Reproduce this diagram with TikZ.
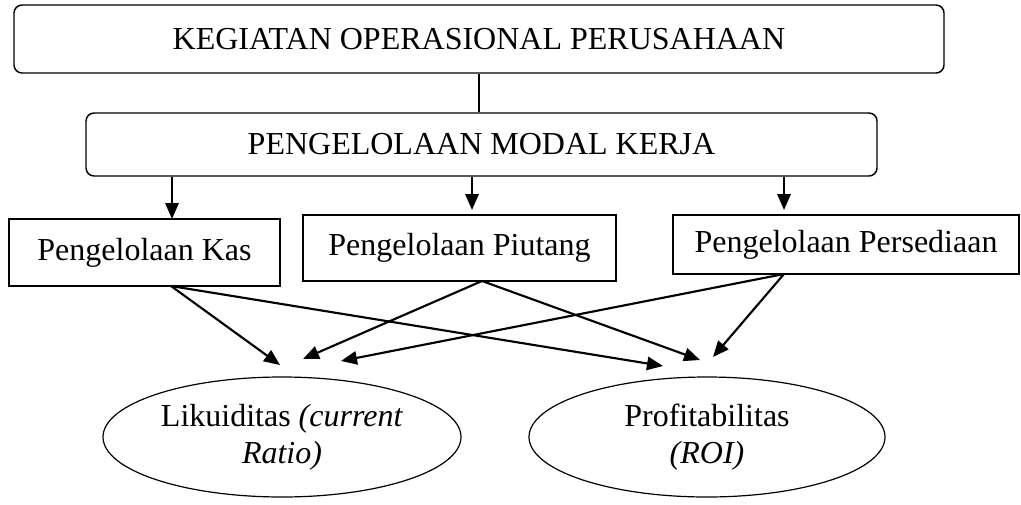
\documentclass[tikz,border=0pt]{standalone}
\usepackage{fontspec}
\setmainfont{Liberation Serif}
\usetikzlibrary{arrows.meta,shapes.geometric}

\begin{document}
\fontsize{24pt}{28pt}\selectfont
\begin{tikzpicture}[x=0.75pt,y=-0.75pt,
  rbox/.style={draw,line width=1.1pt,rounded corners=6pt,inner sep=0pt},
  sbox/.style={draw,line width=1.1pt,inner sep=0pt},
  oval/.style={draw,ellipse,line width=0.9pt,inner sep=0pt,align=center,minimum height=90pt},
  arr/.style={line width=1.6pt,-{Triangle[length=12pt,width=10pt]}}]
\useasboundingbox (0,0) rectangle (1021,504);
\node[rbox,minimum width=697.5pt,minimum height=51pt] (kegiatan) at (479,39) {KEGIATAN OPERASIONAL PERUSAHAAN};
\node[rbox,minimum width=593.25pt,minimum height=47.25pt] (modal) at (481.5,144.5) {PENGELOLAAN MODAL KERJA};
\node[sbox,minimum width=203.25pt,minimum height=50.25pt] (kas) at (144.5,252.5) {Pengelolaan Kas};
\node[sbox,minimum width=234.75pt,minimum height=49.5pt] (piutang) at (459.5,248) {Pengelolaan Piutang};
\node[sbox,minimum width=259.5pt,minimum height=44.25pt] (sedia) at (846,244.5) {Pengelolaan Persediaan};
\node[oval,minimum width=268.5pt] (likuid) at (282,437) {Likuiditas \textit{(current}\\\textit{Ratio)}};
\node[oval,minimum width=267pt] (profit) at (707,437) {Profitabilitas\\\textit{(ROI)}};
% ends of the arrows
\coordinate (kasin) at (172,219);
\coordinate (piutangin) at (472,210);
\coordinate (sediain) at (784,210);
\coordinate (kasout) at (171,286);
\coordinate (piutangout) at (482,281);
\coordinate (sediaout) at (784,274);
\coordinate (likuid1) at (280,365);
\coordinate (likuid2) at (303,359);
\coordinate (likuid3) at (341,361);
\coordinate (profit1) at (663,366);
\coordinate (profit2) at (700,360);
\coordinate (profit3) at (713,357);
\draw[line width=0.9pt] (kegiatan.south) -- (kegiatan.south |- modal.north);
\draw[arr] (modal.south -| kasin) -- (kasin);
\draw[arr] (modal.south -| piutangin) -- (piutangin);
\draw[arr] (modal.south -| sediain) -- (sediain);
\draw[arr] (kasout) -- (likuid1);
\draw[arr] (kasout) -- (profit1);
\draw[arr] (piutangout) -- (likuid2);
\draw[arr] (piutangout) -- (profit2);
\draw[arr] (sediaout) -- (likuid3);
\draw[arr] (sediaout) -- (profit3);
\end{tikzpicture}
\end{document}
